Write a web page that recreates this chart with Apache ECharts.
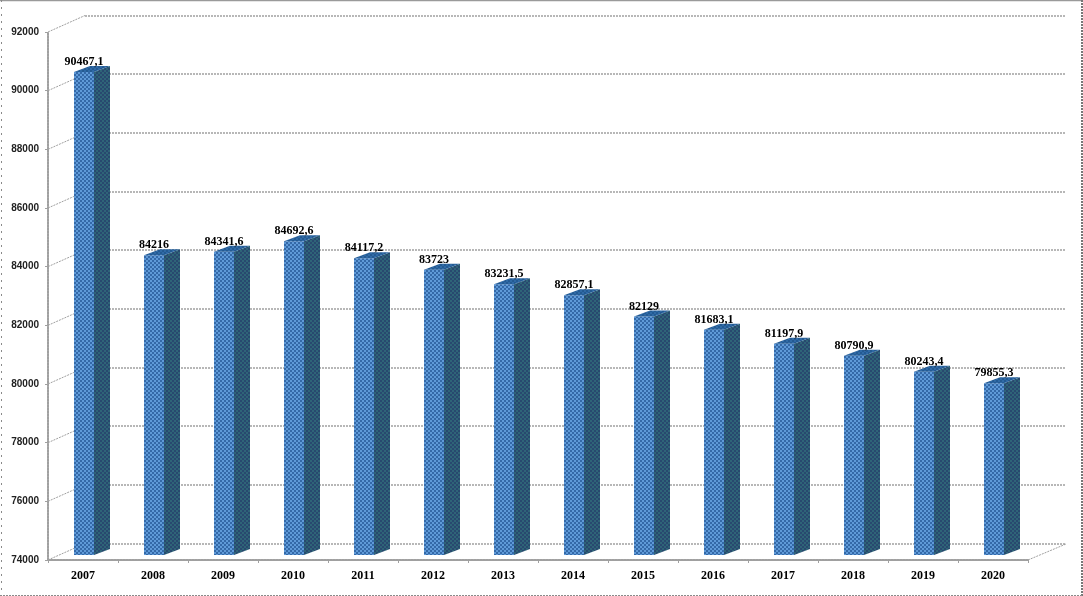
<!DOCTYPE html>
<html>
<head>
<meta charset="utf-8">
<style>html,body{margin:0;padding:0;background:#fff}#c{width:1083px;height:596px}</style>
<script src="https://cdn.jsdelivr.net/npm/echarts@6/dist/echarts.min.js"></script>
</head>
<body>
<div id="c"></div>
<script>
const years = ['2007','2008','2009','2010','2011','2012','2013','2014','2015','2016','2017','2018','2019','2020'];
const values = [90467.1,84216,84341.6,84692.6,84117.2,83723,83231.5,82857.1,82129,81683.1,81197.9,80790.9,80243.4,79855.3];
const yTicks = [74000,76000,78000,80000,82000,84000,86000,88000,90000,92000];
const Y_MIN = 74000, Y_MAX = 92000, Y_STEP = 2000;

const serif = '"Liberation Serif","Times New Roman",serif';
const sans = '"Liberation Sans",Arial,sans-serif';
const GRID_COL = '#a0a0a0';

function dither(a, b) {
  const c = document.createElement('canvas');
  c.width = 4; c.height = 4;
  const g = c.getContext('2d');
  g.fillStyle = a; g.fillRect(0, 0, 4, 4);
  g.fillStyle = b;
  g.fillRect(0, 0, 2, 2); g.fillRect(2, 2, 2, 2);
  return { image: c, repeat: 'repeat' };
}
const frontFill = dither('#5f9ad8', '#3469a8');
const sideFill = dither('#2f6478', '#28496f');
const topFill = dither('#2f6aa6', '#245a92');

const BAR_W = 20, DX = 16, DY = -6, LIFT = 5, SHIFT = 1;

function renderBar(params, api) {
  const i = api.value(0), v = api.value(1);
  const t = api.coord([i, v]), b = api.coord([i, Y_MIN]);
  const l = t[0] + SHIFT - BAR_W / 2, r = l + BAR_W;
  const top = t[1] - LIFT, bot = b[1] - LIFT;
  return {
    type: 'group',
    children: [
      { type: 'polygon', shape: { points: [[l, top], [r, top], [r, bot], [l, bot]] }, style: { fill: frontFill } },
      { type: 'polygon', shape: { points: [[r, top], [r + DX, top + DY], [r + DX, bot + DY], [r, bot]] }, style: { fill: sideFill } },
      { type: 'polygon', shape: { points: [[l, top], [l + DX, top + DY], [r + DX, top + DY], [r, top]] }, style: { fill: topFill } },
      { type: 'text', x: t[0] + SHIFT, y: top - 10,
        style: { text: String(v).replace('.', ','), fill: '#000', font: 'bold 12px ' + serif, align: 'center', verticalAlign: 'middle' } }
    ]
  };
}
const wallLine = { stroke: GRID_COL, lineWidth: 1, lineDash: [2, 1] };
function renderWall(params, api) {
  const p = api.coord([0, api.value(0)]);
  const x0 = params.coordSys.x, y0 = p[1];
  return { type: 'line', shape: { x1: x0, y1: y0, x2: x0 + 37, y2: y0 - 16.5 }, style: wallLine };
}
function renderFloor(params, api) {
  const p = api.coord([0, api.value(0)]);
  const x0 = params.coordSys.x + params.coordSys.width, y0 = p[1];
  return { type: 'line', shape: { x1: x0, y1: y0, x2: x0 + 38, y2: y0 - 16 }, style: wallLine };
}

const chart = echarts.init(document.getElementById('c'), null, { renderer: 'canvas' });
chart.setOption({
  animation: false,
  backgroundColor: '#fff',
  grid: [
    { left: 48, right: 55, top: 32, bottom: 36 },
    { left: 85, right: 17, top: 15.5, bottom: 52.5 }
  ],
  xAxis: [
    { type: 'category', gridIndex: 0, data: years, boundaryGap: true,
      axisLine: { lineStyle: { color: GRID_COL, width: 2, type: [2, 1] } },
      axisTick: { show: true, length: 3, lineStyle: { color: GRID_COL } },
      axisLabel: { color: '#000', fontFamily: serif, fontWeight: 'bold', fontSize: 12, margin: 10, interval: 0 } },
    { type: 'category', gridIndex: 1, data: years, show: false }
  ],
  yAxis: [
    { type: 'value', gridIndex: 0, min: Y_MIN, max: Y_MAX, interval: Y_STEP,
      axisLine: { show: true, lineStyle: { color: GRID_COL, width: 2, type: [2, 1] } },
      axisTick: { show: true, length: 3, lineStyle: { color: GRID_COL } },
      splitLine: { show: false },
      axisLabel: { color: '#222', fontFamily: sans, fontWeight: 'bold', fontSize: 10, margin: 9, lineHeight: 12, padding: [2, 0, 0, 0], formatter: v => String(v) } },
    { type: 'value', gridIndex: 1, min: Y_MIN, max: Y_MAX, interval: Y_STEP,
      axisLine: { show: false }, axisTick: { show: false }, axisLabel: { show: false },
      splitLine: { show: true, lineStyle: { color: GRID_COL, width: 1.5, type: [2, 1] } } }
  ],
  series: [
    { type: 'custom', xAxisIndex: 0, yAxisIndex: 0, z: 1, silent: true, renderItem: renderWall, data: yTicks.map(v => [v]), encode: { y: 0 } },
    { type: 'custom', xAxisIndex: 0, yAxisIndex: 0, z: 1, silent: true, renderItem: renderFloor, data: [[Y_MIN]], encode: { y: 0 } },
    { type: 'custom', xAxisIndex: 0, yAxisIndex: 0, z: 5, silent: true, clip: false, renderItem: renderBar,
      data: values.map((v, i) => [i, v]), encode: { x: 0, y: 1 } }
  ],
  graphic: [
    { type: 'line', shape: { x1: 0, y1: 0.5, x2: 1083, y2: 0.5 }, style: { stroke: '#9a9a9a', lineWidth: 1.5 } },
    { type: 'line', shape: { x1: 1.5, y1: 0, x2: 1.5, y2: 596 }, style: { stroke: '#8a8a8a', lineWidth: 1, lineDash: [2, 5] } },
    { type: 'line', shape: { x1: 1082, y1: 0, x2: 1082, y2: 596 }, style: { stroke: '#777', lineWidth: 2, lineDash: [2, 1] } },
    { type: 'line', shape: { x1: 0, y1: 595.5, x2: 1083, y2: 595.5 }, style: { stroke: '#8a8a8a', lineWidth: 1, lineDash: [2, 1] } }
  ]
});
</script>
</body>
</html>
